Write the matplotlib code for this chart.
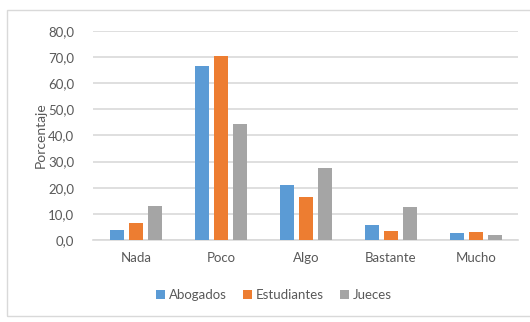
import matplotlib.pyplot as plt
import numpy as np
from matplotlib.patches import Rectangle

# Data
categories = ["Nada", "Poco", "Algo", "Bastante", "Mucho"]
abogados = [3.8, 66.6, 21.0, 5.6, 2.6]
estudiantes = [6.6, 70.4, 16.6, 3.3, 2.9]
jueces = [12.9, 44.5, 27.7, 12.8, 1.9]
yticks = [0, 10, 20, 30, 40, 50, 60, 70, 80]

plt.rcParams['font.family'] = ['Lato', 'DejaVu Sans']

fig = plt.figure(figsize=(5.3, 3.22), dpi=100)
ax = fig.add_axes([0.1764, 0.2547, 0.8016, 0.649])

# light border around the chart, like the Excel chart area
fig.patches.append(Rectangle((7 / 530, 6 / 322), 1.2, 1 - 16 / 322,
                             transform=fig.transFigure, fill=False,
                             edgecolor='#d9d9d9', linewidth=1))

x = np.arange(len(categories))
w = 0.17
pitch = 0.225
ax.bar(x - pitch, abogados, w, color='#5B9BD5', label='Abogados', zorder=3)
ax.bar(x, estudiantes, w, color='#ED7D31', label='Estudiantes', zorder=3)
ax.bar(x + pitch, jueces, w, color='#A5A5A5', label='Jueces', zorder=3)

ax.set_xlim(-0.5, len(categories) - 0.5)
ax.set_ylim(0, 80)
ax.set_yticks(yticks)
ax.set_yticklabels([f"{v:.1f}".replace('.', ',') for v in yticks])
ax.set_xticks(x)
ax.set_xticklabels(categories)
ax.tick_params(length=0, colors='#595959', labelsize=9.5)
ax.tick_params(axis='x', pad=9)
ax.tick_params(axis='y', pad=14)
ax.grid(axis='y', color='#d9d9d9', linewidth=1.2, zorder=0)
for s in ['left', 'right', 'top']:
    ax.spines[s].set_visible(False)
ax.spines['bottom'].set_color('#d9d9d9')
ax.spines['bottom'].set_linewidth(1.2)

ax.set_ylabel("Porcentaje", color='#595959', fontsize=10, labelpad=1)

ax.legend(loc='center', bbox_to_anchor=(0.425, -0.265), ncol=3, frameon=False,
          fontsize=9.5, labelcolor='#595959', handlelength=0.7,
          handleheight=0.7, handletextpad=0.3, columnspacing=1.2)

fig.savefig("out.png", dpi=100)
